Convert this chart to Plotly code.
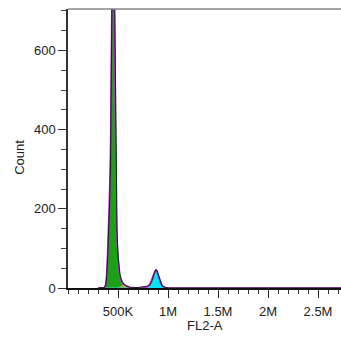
import plotly.graph_objects as go

# FL2-A values in thousands (K)
x_k = [300, 360, 375, 385, 395, 405, 415, 425, 435, 445, 452, 460, 470, 480, 490, 500, 510,
       520, 535, 550, 570, 590, 620, 660, 700, 720, 740, 760, 780, 800, 820, 840, 860, 870,
       880, 890, 900, 920, 940, 960, 980, 1000, 1040, 1100, 1500, 2000, 2730]

g1_counts = [0, 0, 4, 20, 65, 120, 200, 300, 520, 880, 1100, 880, 560, 260, 140, 80, 45,
             28, 12, 5, 1, 0, 0, 0, 0, 0, 0, 0, 0, 0, 0, 0, 0, 0,
             0, 0, 0, 0, 0, 0, 0, 0, 0, 0, 0, 0, 0]

s_counts = [0, 0, 0, 0, 0, 0, 0, 0, 0, 0, 0, 0, 0, 0, 0, 0, 2,
            4, 6, 6, 4, 2, 0, 0, 0, 0, 0, 0, 0, 0, 0, 0, 0, 0,
            0, 0, 0, 0, 0, 0, 0, 0, 0, 0, 0, 0, 0]

g2_counts = [0, 0, 0, 0, 0, 0, 0, 0, 0, 0, 0, 0, 0, 0, 0, 0, 0,
             0, 0, 0, 0, 0, 0, 0, 0, 0, 0, 0, 0, 1, 6, 16, 32, 40,
             45, 43, 35, 18, 7, 2, 0, 0, 0, 0, 0, 0, 0]

model_counts = [0, 0, 7, 30, 85, 150, 240, 360, 620, 980, 1100, 780, 480, 220, 120, 70, 42,
                28, 14, 9, 7, 5, 2, 1, 0, 0, 1, 1, 2, 4, 11, 24, 38, 44,
                46, 42, 32, 15, 5, 1, 0, 0, 0, 0, 0, 0, 0]

total_counts = [0, 1, 5, 22, 67, 122, 202, 302, 522, 880, 1100, 880, 560, 262, 142, 82, 49,
                34, 20, 13, 8, 4, 2, 1, 1, 2, 3, 4, 4, 5, 8, 18, 34, 41,
                46, 44, 36, 19, 7, 3, 1, 0, 0, 0, 0, 0, 0]

tick_vals_k = [500, 1000, 1500, 2000, 2500]
tick_text = ["500K", "1M", "1.5M", "2M", "2.5M"]
y_tick_vals = [0, 200, 400, 600]
x_title = "FL2-A"
y_title = "Count"

x = [v * 1000 for v in x_k]
fig = go.Figure()
fig.add_trace(go.Scatter(x=x, y=g1_counts, mode="lines", fill="tozeroy",
                         fillcolor="rgb(28,160,22)", line=dict(color="rgb(28,160,22)", width=0.5)))
fig.add_trace(go.Scatter(x=x, y=s_counts, mode="lines", fill="tozeroy",
                         fillcolor="rgba(220,160,50,0.85)", line=dict(color="rgb(200,140,50)", width=0.5)))
fig.add_trace(go.Scatter(x=x, y=g2_counts, mode="lines", fill="tozeroy",
                         fillcolor="rgb(0,230,245)", line=dict(color="rgb(0,220,240)", width=0.5)))
fig.add_trace(go.Scatter(x=x, y=model_counts, mode="lines",
                         line=dict(color="rgb(200,40,225)", width=1.5)))
fig.add_trace(go.Scatter(x=x, y=total_counts, mode="lines",
                         line=dict(color="rgb(30,30,40)", width=1.1)))

font = dict(family="Liberation Sans, Arial, sans-serif", size=13, color="#222")
fig.update_layout(
    width=341, height=338, showlegend=False,
    margin=dict(l=68, r=0, t=9, b=50, autoexpand=False),
    plot_bgcolor="white", paper_bgcolor="white", font=font,
    xaxis=dict(range=[0, 2730000], tickvals=[v * 1000 for v in tick_vals_k], ticktext=tick_text,
               showgrid=False, zeroline=False, showline=True, linecolor="#111", linewidth=2,
               ticks="outside", ticklen=8, tickwidth=1.2, tickcolor="#222",
               minor=dict(dtick=100000, tick0=0, ticks="outside", ticklen=4, tickcolor="#333", showgrid=False),
               ticklabelstandoff=2, automargin=False),
    yaxis=dict(range=[0, 705], tickvals=y_tick_vals, showgrid=False, zeroline=False,
               showline=True, linecolor="#333", linewidth=1.5,
               ticks="outside", ticklen=8, tickwidth=1.2, tickcolor="#333",
               minor=dict(dtick=50, tick0=0, ticks="outside", ticklen=5, tickcolor="#444", showgrid=False),
               ticklabelstandoff=0, automargin=False),
)
fig.add_annotation(text=x_title, xref="paper", yref="paper", x=0.5, y=-37 / 279,
                   yanchor="middle", xanchor="center", showarrow=False, font=font)
fig.add_annotation(text=y_title, xref="paper", yref="paper", x=-48 / 273, y=0.47,
                   xanchor="center", yanchor="middle", textangle=-90, showarrow=False, font=font)
fig.add_shape(type="line", xref="paper", yref="paper", x0=0, x1=1, y0=1, y1=1,
              line=dict(color="#888", width=1.5))
fig.write_html("out.html", config={"displayModeBar": False},
               post_script="document.body.style.margin='0px';document.body.style.overflow='hidden';")
